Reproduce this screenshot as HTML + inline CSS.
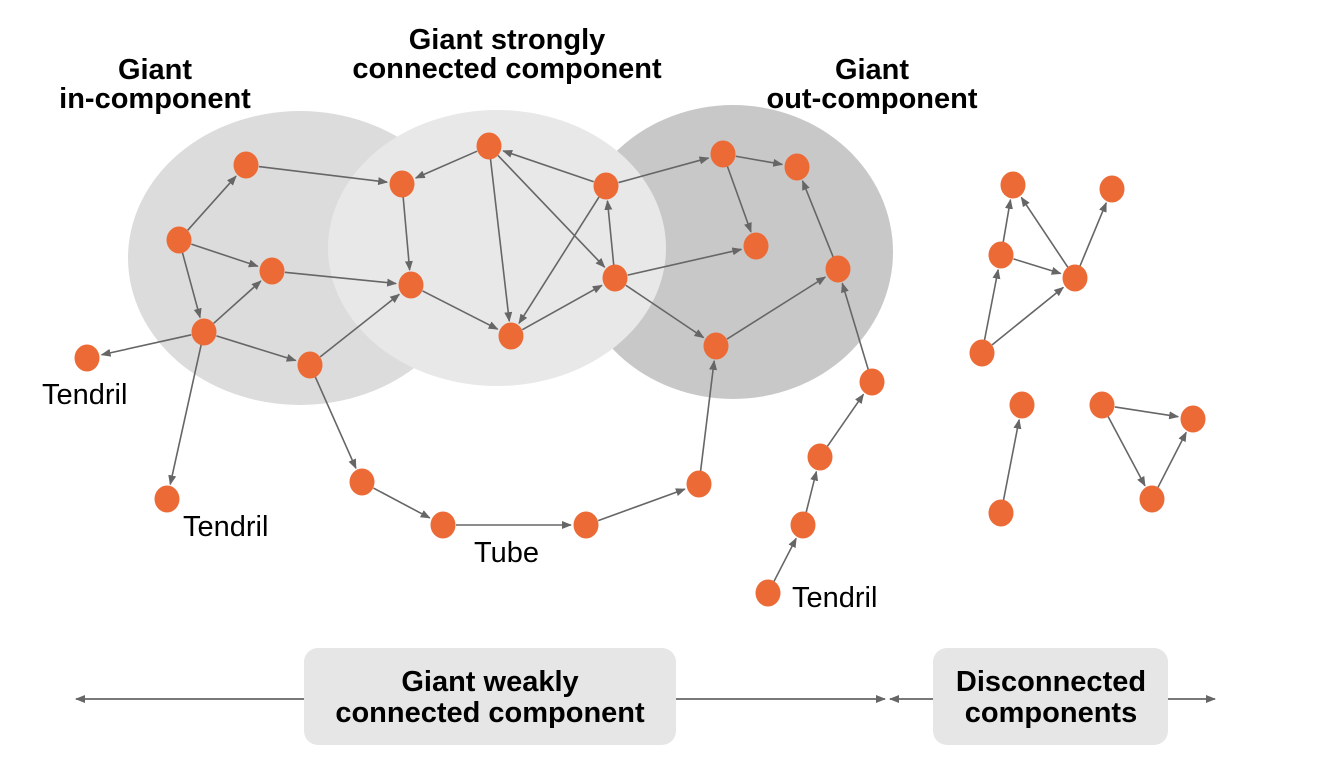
<!DOCTYPE html>
<html><head><meta charset="utf-8"><style>body{margin:0;background:#fff}svg{display:block}</style></head><body>
<svg width="1317" height="775" xmlns="http://www.w3.org/2000/svg" font-family="Liberation Sans, sans-serif">
<defs><marker id="ar" markerWidth="10" markerHeight="8" refX="9" refY="4" orient="auto" markerUnits="userSpaceOnUse"><path d="M0,0 L10,4 L0,8 z" fill="#666"/></marker></defs>
<ellipse cx="300" cy="258" rx="172" ry="147" fill="#dcdcdc"/>
<ellipse cx="733" cy="252" rx="160" ry="147" fill="#c8c8c8"/>
<ellipse cx="497" cy="248" rx="169" ry="138" fill="#e8e8e8"/>
<g stroke="#666" stroke-width="1.6" marker-end="url(#ar)" id="edges"></g>
<g fill="#ec6a35" id="nodes"></g>
<g font-weight="bold" font-size="29" text-anchor="middle" fill="#000">
<text x="155" y="79">Giant</text><text x="155" y="108">in-component</text>
<text x="507" y="49">Giant strongly</text><text x="507" y="78">connected component</text>
<text x="872" y="79">Giant</text><text x="872" y="108">out-component</text>
</g>
<g font-size="29" fill="#000">
<text x="42" y="404">Tendril</text><text x="183" y="536">Tendril</text>
<text x="474" y="562">Tube</text><text x="792" y="607">Tendril</text>
</g>
<g stroke="#666" stroke-width="1.6">
<line x1="76" y1="699" x2="885" y2="699" marker-end="url(#ar)"/>
<line x1="885" y1="699" x2="76" y2="699" marker-end="url(#ar)"/>
<line x1="890" y1="699" x2="1215" y2="699" marker-end="url(#ar)"/>
<line x1="1215" y1="699" x2="890" y2="699" marker-end="url(#ar)"/>
</g>
<rect x="304" y="648" width="372" height="97" rx="14" fill="#e6e6e6"/>
<rect x="933" y="648" width="235" height="97" rx="14" fill="#e6e6e6"/>
<g font-weight="bold" font-size="29" text-anchor="middle">
<text x="490" y="691">Giant weakly</text><text x="490" y="722">connected component</text>
<text x="1051" y="691">Disconnected</text><text x="1051" y="722">components</text>
</g>
<script>
var N={A:[246,165],B:[179,240],C:[272,271],D:[204,332],E:[310,365],F:[87,358],G:[167,499],H:[402,184],I:[489,146],J:[606,186],K:[411,285],L:[511,336],M:[615,278],Nn:[723,154],O:[797,167],P:[756,246],Q:[838,269],R:[716,346],S:[362,482],T:[443,525],U:[586,525],V:[699,484],W:[872,382],X:[820,457],Y:[803,525],Z:[768,593],a:[1013,185],b:[1112,189],c:[1001,255],d:[1075,278],e:[982,353],f:[1022,405],g:[1001,513],h:[1102,405],i:[1193,419],j:[1152,499]};
var E="B-A B-C B-D D-C D-F D-G D-E A-H C-K E-K E-S H-K I-H J-I I-L I-M K-L L-M M-J J-L J-Nn Nn-O Nn-P M-P M-R R-Q Q-O S-T T-U U-V V-R W-Q X-W Y-X Z-Y c-a d-a c-d e-c e-d d-b g-f h-i h-j j-i".split(" ");
var ns="http://www.w3.org/2000/svg",ge=document.getElementById("edges"),gn=document.getElementById("nodes");
E.forEach(function(s){var p=s.split("-"),u=N[p[0]],v=N[p[1]],dx=v[0]-u[0],dy=v[1]-u[1],L=Math.hypot(dx,dy),r1=13,r2=15;
var l=document.createElementNS(ns,"line");l.setAttribute("x1",u[0]+dx/L*r1);l.setAttribute("y1",u[1]+dy/L*r1);l.setAttribute("x2",v[0]-dx/L*r2);l.setAttribute("y2",v[1]-dy/L*r2);ge.appendChild(l);});
for(var k in N){var c=document.createElementNS(ns,"ellipse");c.setAttribute("cx",N[k][0]);c.setAttribute("cy",N[k][1]);c.setAttribute("rx",12.5);c.setAttribute("ry",13.5);gn.appendChild(c);}
</script>
</svg>
</body></html>
